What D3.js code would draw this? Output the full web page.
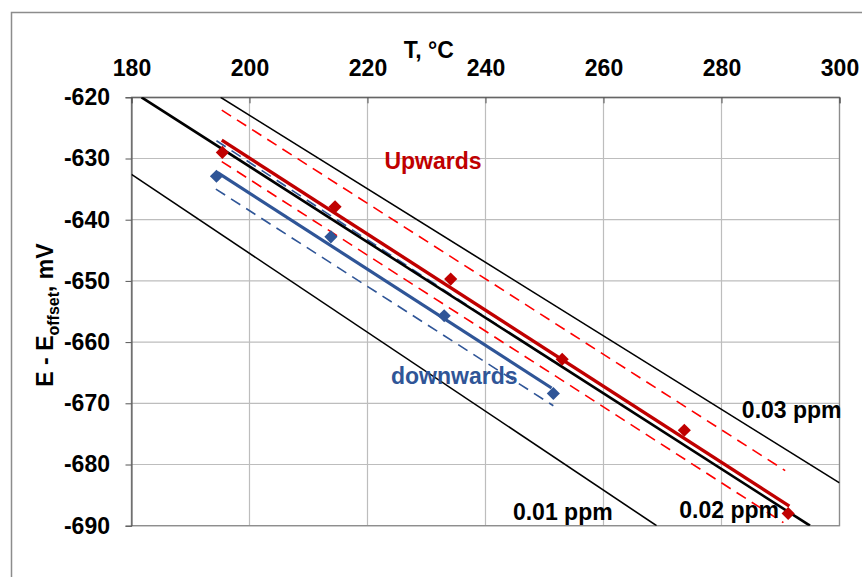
<!DOCTYPE html>
<html>
<head>
<meta charset="utf-8">
<script src="https://cdn.jsdelivr.net/npm/d3@7"></script>
<style>
  body { margin: 0; background: #fff; }
  text { font-family: "Liberation Sans", Arial, sans-serif; font-weight: bold; }
</style>
</head>
<body>
<div id="chart"></div>
<script>
// values
var xTicks = [180, 200, 220, 240, 260, 280, 300];
var yTicks = [-620, -630, -640, -650, -660, -670, -680, -690];

// measured points
var upT = [195.4, 214.5, 234.1, 253.0, 273.7, 291.3];
var upE = [-629.0, -637.9, -649.7, -662.8, -674.4, -688.0];
var downT = [194.4, 213.8, 233.0, 251.5];
var downE = [-632.9, -642.8, -655.7, -668.4];

// fitted lines and bands (T, E endpoints)
var upFit = [[195.3, -627.0], [291.5, -686.8]];
var upHigh = [[195.3, -622.1], [290.8, -681.0]];
var upLow = [[195.3, -630.5], [290.5, -689.5]];
var downFit = [[194.6, -632.3], [251.2, -667.5]];
var downHigh = [[194.4, -627.1], [251.5, -663.2]];
var downLow = [[194.3, -635.0], [251.5, -670.4]];

// isoconcentration lines
var ppm001 = [[180, -632.6], [269.0, -690]];
var ppm002 = [[181.7, -620], [295.0, -690]];
var ppm003 = [[195.1, -620], [300, -683.0]];

var labels = [
  {text: "Upwards", T: 231.1, E: -630.4, color: "#c00000"},
  {text: "downwards", T: 234.7, E: -665.6, color: "#2f5597"},
  {text: "0.03 ppm", T: 291.9, E: -671.1, color: "#000"},
  {text: "0.02 ppm", T: 281.3, E: -687.4, color: "#000"},
  {text: "0.01 ppm", T: 253.1, E: -687.7, color: "#000"}
];

var W = 862, H = 577, FS = "23px";
var margin = {top: 97.3, right: 22.5, bottom: 51.3, left: 131.5},
    width = W - margin.left - margin.right,
    height = H - margin.top - margin.bottom;

var root = d3.select("#chart")
  .append("svg")
    .attr("width", W)
    .attr("height", H);

// outer frame
root.append("rect")
  .attr("x", 11.5).attr("y", 12.5)
  .attr("width", W + 10).attr("height", H + 10)
  .attr("fill", "none")
  .attr("stroke", "#8c8c8c")
  .attr("stroke-width", 1.5);

var svg = root.append("g")
  .attr("transform", "translate(" + margin.left + "," + margin.top + ")");

var x = d3.scaleLinear().domain([180, 300]).range([0, width]);
var y = d3.scaleLinear().domain([-620, -690]).range([0, height]);

// grid
svg.append("g").selectAll("line").data(xTicks).enter().append("line")
  .attr("x1", d => x(d)).attr("x2", d => x(d))
  .attr("y1", 0).attr("y2", height)
  .attr("stroke", "#bdbdbd").attr("stroke-width", 1.2);
svg.append("g").selectAll("line").data(yTicks).enter().append("line")
  .attr("x1", 0).attr("x2", width)
  .attr("y1", d => y(d)).attr("y2", d => y(d))
  .attr("stroke", "#bdbdbd").attr("stroke-width", 1.2);

svg.append("rect")
  .attr("width", width).attr("height", height)
  .attr("fill", "none").attr("stroke", "#8c8c8c").attr("stroke-width", 1.3);

// axes
var xAxis = svg.append("g")
  .call(d3.axisTop(x).tickValues(xTicks).tickSize(-6).tickPadding(21)
    .tickFormat(d => String(d)));
var yAxis = svg.append("g")
  .call(d3.axisLeft(y).tickValues(yTicks).tickSize(6).tickPadding(15.5)
    .tickFormat(d => String(d)));
[xAxis, yAxis].forEach(function(a) {
  a.select(".domain").attr("stroke", "#555");
  a.selectAll(".tick line").attr("stroke", "#555");
  a.selectAll(".tick text")
    .attr("fill", "#000")
    .style("font-size", FS)
    .style("font-family", "Liberation Sans, Arial, sans-serif")
    .style("font-weight", "bold");
});

// axis titles
svg.append("text")
  .attr("x", x(230.4)).attr("y", -39)
  .attr("text-anchor", "middle")
  .style("font-size", FS)
  .text("T, °C");

var yt = root.append("text")
  .attr("transform", "translate(53,315) rotate(-90)")
  .attr("text-anchor", "middle")
  .style("font-size", FS);
yt.append("tspan").text("E - E");
yt.append("tspan").attr("dy", 6).style("font-size", "16px").text("offset");
yt.append("tspan").attr("dy", -6).text(", mV");

var plot = svg.append("g");
svg.append("clipPath").attr("id", "clip")
  .append("rect").attr("width", width).attr("height", height);
plot.attr("clip-path", "url(#clip)");

var line = d3.line().x(d => x(d[0])).y(d => y(d[1]));

function draw(pts, color, w, dash) {
  plot.append("path")
    .datum(pts)
    .attr("d", line)
    .attr("fill", "none")
    .attr("stroke", color)
    .attr("stroke-width", w)
    .attr("stroke-dasharray", dash || null);
}

draw(ppm001, "#000", 1.6);
draw(ppm003, "#000", 1.6);
draw(downLow, "#2f5597", 1.6, "11,7");
draw(downHigh, "#2f5597", 1.6, "11,7");
draw(ppm002, "#000", 2.6);
draw(upHigh, "#ff0000", 1.6, "11,7");
draw(upLow, "#ff0000", 1.6, "11,7");
draw(downFit, "#2f5597", 3.2);
draw(upFit, "#c00000", 3.4);

var diamond = d3.symbol().type(d3.symbolDiamond2).size(110);
plot.append("g").selectAll("path").data(downT).enter().append("path")
  .attr("d", diamond)
  .attr("transform", (d, i) => "translate(" + x(d) + "," + y(downE[i]) + ")")
  .attr("fill", "#2f5597");
plot.append("g").selectAll("path").data(upT).enter().append("path")
  .attr("d", diamond)
  .attr("transform", (d, i) => "translate(" + x(d) + "," + y(upE[i]) + ")")
  .attr("fill", "#c00000");

svg.append("g").selectAll("text").data(labels).enter().append("text")
  .attr("x", d => x(d.T)).attr("y", d => y(d.E))
  .attr("text-anchor", "middle")
  .attr("dominant-baseline", "central")
  .attr("fill", d => d.color)
  .style("font-size", FS)
  .text(d => d.text);
</script>
</body>
</html>
